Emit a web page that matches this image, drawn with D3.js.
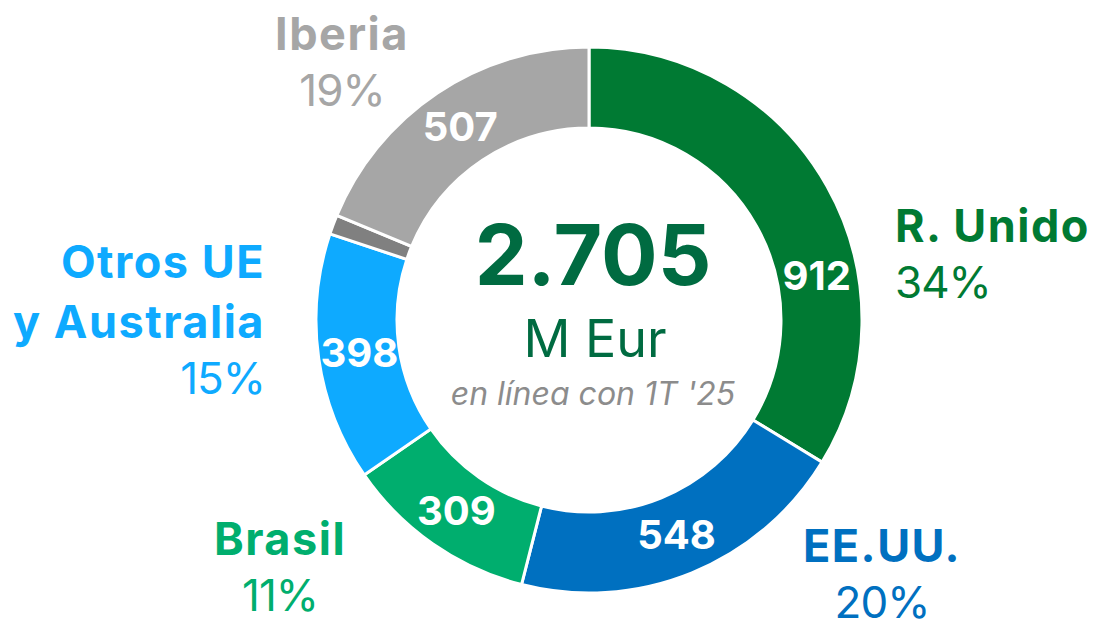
<!DOCTYPE html>
<html>
<head>
<meta charset="utf-8">
<script src="https://cdn.jsdelivr.net/npm/d3@7"></script>
<style>
  html, body { margin: 0; padding: 0; background: #fff; }
  text { font-family: Inter, "Noto Sans", sans-serif; }
</style>
</head>
<body>
<div id="chart"></div>
<script>
// Data
const regions = ['R. Unido', 'EE.UU.', 'Brasil', 'Otros UE y Australia', 'Otros', 'Iberia'];
const values = [912, 548, 309, 398, 31, 507];
const percents = ['34%', '20%', '11%', '15%', '', '19%'];
const colors = ['#007a33', '#0070c0', '#00ae6e', '#0eaaff', '#808080', '#a6a6a6'];
const total = '2.705';

const width = 1094;
const height = 621;
const cx = 589, cy = 320;
const outerR = 273, innerR = 192;

const svg = d3.select('#chart')
  .append('svg')
  .attr('width', width)
  .attr('height', height);

const g = svg.append('g').attr('transform', `translate(${cx},${cy})`);

const pie = d3.pie().sort(null).value(d => d);
const arcs = pie(values);

const arc = d3.arc().innerRadius(innerR).outerRadius(outerR);

g.selectAll('path.slice')
  .data(arcs)
  .enter()
  .append('path')
  .attr('class', 'slice')
  .attr('d', arc)
  .attr('fill', (d, i) => colors[i])
  .attr('stroke', '#fff')
  .attr('stroke-width', 3);

// value labels inside the ring (first one pushed further along its slice)
const labelShare = [0.65, 0.5, 0.5, 0.5, 0.5, 0.5];
const labelR = 232;
g.selectAll('text.val')
  .data(arcs.filter(d => d.value > 100))
  .enter()
  .append('text')
  .attr('class', 'val')
  .each(function(d) {
    const i = d.index;
    const a = d.startAngle + (d.endAngle - d.startAngle) * labelShare[i];
    d3.select(this)
      .attr('x', Math.sin(a) * labelR)
      .attr('y', -Math.cos(a) * labelR);
  })
  .attr('text-anchor', 'middle')
  .attr('dy', '0.36em')
  .attr('fill', '#fff')
  .attr('font-size', 40)
  .attr('font-weight', 700)
  .text(d => d.value);

// region labels outside the ring
const labelLayout = [
  { x: 895, y: 242, anchor: 'start' },
  { x: 882, y: 562, anchor: 'middle' },
  { x: 280, y: 555, anchor: 'middle' },
  { x: 265, y: 278, anchor: 'end' },
  null,
  { x: 342, y: 50, anchor: 'middle' }
];
const lineGap = 60;

regions.forEach((name, i) => {
  const pos = labelLayout[i];
  if (!pos) return;
  const lines = i === 3 ? ['Otros UE', 'y Australia'] : [name];
  const t = svg.append('g');
  lines.forEach((ln, k) => {
    t.append('text')
      .attr('x', pos.x)
      .attr('y', pos.y + k * lineGap)
      .attr('text-anchor', pos.anchor)
      .attr('fill', colors[i])
      .attr('font-size', 45)
      .attr('font-weight', 700)
      .attr('letter-spacing', 1.5)
      .text(ln);
  });
  t.append('text')
    .attr('x', pos.x)
    .attr('y', pos.y + (lines.length - 1) * lineGap + 56)
    .attr('text-anchor', pos.anchor)
    .attr('fill', colors[i])
    .attr('font-size', 44)
    .attr('font-weight', 400)
    .attr('letter-spacing', -1)
    .text(percents[i]);
});

// centre text
svg.append('text')
  .attr('x', 593).attr('y', 285)
  .attr('text-anchor', 'middle')
  .attr('fill', '#006b41')
  .attr('font-size', 84)
  .attr('font-weight', 700)
  .text(total);

svg.append('text')
  .attr('x', 595).attr('y', 357)
  .attr('text-anchor', 'middle')
  .attr('fill', '#006b41')
  .attr('font-size', 52)
  .attr('font-weight', 400)
  .text('M Eur');

svg.append('text')
  .attr('x', 593).attr('y', 405)
  .attr('text-anchor', 'middle')
  .attr('fill', '#8c8c8c')
  .attr('font-size', 32)
  .attr('font-style', 'italic')
  .text("en línea con 1T '25");
</script>
</body>
</html>
